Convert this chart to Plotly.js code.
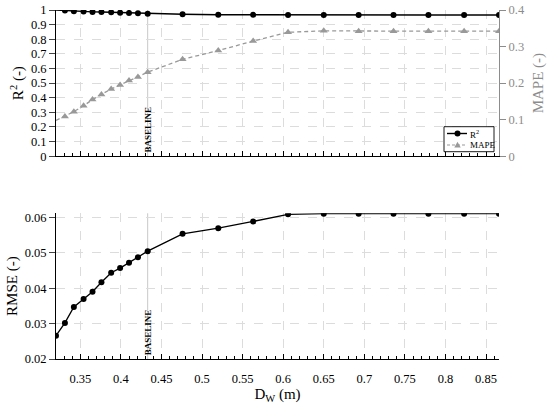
<!DOCTYPE html>
<html>
<head>
<meta charset="utf-8">
<script src="https://cdn.plot.ly/plotly-3.0.1.min.js"></script>
<style>html,body{margin:0;padding:0;background:#fff}#chart{width:550px;height:412px}</style>
</head>
<body>
<div id="chart"></div>
<script>
// Data
const dw = [0.320,0.331,0.342,0.354,0.365,0.376,0.388,0.399,0.410,0.421,0.433,0.476,0.520,0.563,0.606,0.650,0.693,0.736,0.779,0.823,0.866];
const r2 = [1.000,0.996,0.991,0.989,0.987,0.986,0.984,0.982,0.980,0.978,0.975,0.971,0.968,0.967,0.966,0.966,0.966,0.966,0.966,0.966,0.966];
const mape = [0.098,0.109,0.122,0.138,0.155,0.169,0.184,0.195,0.207,0.217,0.230,0.265,0.289,0.315,0.339,0.343,0.342,0.342,0.342,0.342,0.342];
const rmse = [0.0266,0.0302,0.0347,0.0370,0.0390,0.0417,0.0444,0.0457,0.0472,0.0488,0.0505,0.0554,0.0570,0.0589,0.0609,0.0611,0.0611,0.0611,0.0611,0.0611,0.0611];
const seriesNames = ['R<sup>2</sup>', 'MAPE', 'RMSE'];
const baselineX = dw[10];
const baselineLabel = 'BASELINE';

const FONT = "'Liberation Serif', 'Times New Roman', Times, serif";
const GRAY = '#8c8c8c';
const MAPE_COLOR = '#999999';
const TICK_SIZE = 12.5;
// first marker of the upper panel sits on the axis and is not drawn
const topOpacity = dw.map((v, i) => i === 0 ? 0 : 1);

const traces = [
  {x: dw, y: r2, type: 'scatter', mode: 'lines+markers', name: seriesNames[0],
   xaxis: 'x', yaxis: 'y', line: {color: '#000', width: 1.4},
   marker: {symbol: 'circle', size: 6, color: '#000', opacity: topOpacity}},
  {x: dw, y: mape, type: 'scatter', mode: 'lines+markers', name: seriesNames[1],
   xaxis: 'x', yaxis: 'y2', line: {color: MAPE_COLOR, width: 1.3, dash: '4px,3px'},
   marker: {symbol: 'triangle-up', size: 7, color: MAPE_COLOR, opacity: topOpacity}},
  {x: dw, y: rmse, type: 'scatter', mode: 'lines+markers', name: seriesNames[2],
   xaxis: 'x2', yaxis: 'y3', line: {color: '#000', width: 1.3},
   marker: {symbol: 'circle', size: 6, color: '#000'}}
];

const xCommon = {
  range: [0.32, 0.866], dtick: 0.05, tick0: 0.3, ticks: 'inside', ticklen: 5, tickcolor: '#000',
  showline: true, linecolor: '#000', linewidth: 1, zeroline: false,
  showgrid: true, gridcolor: '#dcdcdc', griddash: 'dash', gridwidth: 1,
  minor: {dtick: 0.01, tick0: 0.3, ticks: 'inside', ticklen: 3, tickcolor: '#000', showgrid: false},
  tickfont: {family: FONT, size: TICK_SIZE, color: '#000'}
};

// custom compact legend, positioned in paper coordinates (plot area: 56..499 px, 10..359 px)
const PX = p => (p - 56) / 443;
const PY = p => (359 - p) / 349;
const legX0 = 444, legX1 = 494, legY0 = 126.7, legY1 = 151.7;
const row1 = 133.5, row2 = 145;
const symX = 457.5, lineA = 447, lineB = 467, textX = 468;
const triPath = 'M ' + PX(symX - 3.2) + ' ' + PY(row2 + 2.4) + ' L ' + PX(symX + 3.2) + ' ' + PY(row2 + 2.4) +
                ' L ' + PX(symX) + ' ' + PY(row2 - 3.2) + ' Z';

const layout = {
  width: 550, height: 412,
  margin: {l: 56, r: 51, t: 10, b: 53},
  paper_bgcolor: '#fff', plot_bgcolor: '#fff',
  font: {family: FONT, color: '#000'},
  showlegend: false,
  xaxis: Object.assign({}, xCommon, {domain: [0, 1], anchor: 'y', showticklabels: false}),
  yaxis: {domain: [0.581, 1], range: [0, 1], dtick: 0.1, ticks: 'outside', ticklen: 6,
          showline: true, linecolor: '#000', zeroline: false,
          showgrid: true, gridcolor: '#dcdcdc', griddash: 'dash',
          tickfont: {family: FONT, size: TICK_SIZE},
          title: {text: 'R<sup>2</sup> (-)', font: {family: FONT, size: 15}, standoff: 3}},
  yaxis2: {overlaying: 'y', side: 'right', anchor: 'x', range: [0, 0.4], dtick: 0.1,
           ticks: 'outside', ticklen: 6, tickcolor: GRAY,
           showline: true, linecolor: GRAY, zeroline: false, showgrid: false,
           tickfont: {family: FONT, size: TICK_SIZE, color: GRAY},
           title: {text: 'MAPE (-)', font: {family: FONT, size: 15, color: GRAY}, standoff: 8}},
  xaxis2: Object.assign({}, xCommon, {domain: [0, 1], anchor: 'y3', ticklabelstandoff: 8,
          title: {text: 'D<sub>W</sub> (m)', font: {family: FONT, size: 15}, standoff: 2}}),
  yaxis3: {domain: [0, 0.4175], range: [0.02, 0.0612], dtick: 0.01, tick0: 0, ticks: 'outside', ticklen: 6,
           showline: true, linecolor: '#000', zeroline: false,
           showgrid: true, gridcolor: '#dcdcdc', griddash: 'dash',
           tickfont: {family: FONT, size: TICK_SIZE}, anchor: 'x2',
           title: {text: 'RMSE (-)', font: {family: FONT, size: 15}, standoff: 3}},
  shapes: [
    {type: 'line', xref: 'x', yref: 'y domain', x0: baselineX, x1: baselineX, y0: 0, y1: 1,
     line: {color: '#c8c8c8', width: 1}, layer: 'below'},
    {type: 'line', xref: 'x2', yref: 'y3 domain', x0: baselineX, x1: baselineX, y0: 0, y1: 1,
     line: {color: '#c8c8c8', width: 1}, layer: 'below'},
    // legend
    {type: 'rect', xref: 'paper', yref: 'paper', x0: PX(legX0), x1: PX(legX1), y0: PY(legY1), y1: PY(legY0),
     line: {color: '#000', width: 0.9}, fillcolor: '#fff', layer: 'above'},
    {type: 'line', xref: 'paper', yref: 'paper', x0: PX(lineA), x1: PX(lineB), y0: PY(row1), y1: PY(row1),
     line: {color: '#000', width: 1.4}, layer: 'above'},
    {type: 'circle', xref: 'paper', yref: 'paper', x0: PX(symX - 3), x1: PX(symX + 3), y0: PY(row1 + 3), y1: PY(row1 - 3),
     line: {color: '#000', width: 0}, fillcolor: '#000', layer: 'above'},
    {type: 'line', xref: 'paper', yref: 'paper', x0: PX(lineA), x1: PX(lineB), y0: PY(row2), y1: PY(row2),
     line: {color: MAPE_COLOR, width: 1.2, dash: '3px,2px'}, layer: 'above'},
    {type: 'path', xref: 'paper', yref: 'paper', path: triPath,
     line: {color: MAPE_COLOR, width: 0}, fillcolor: MAPE_COLOR, layer: 'above'}
  ],
  annotations: [
    {xref: 'x', yref: 'y domain', x: baselineX, y: 0.01, xanchor: 'center', yanchor: 'bottom',
     text: '<b>' + baselineLabel + '</b>', textangle: -90, showarrow: false,
     font: {family: FONT, size: 9, color: '#000'}},
    {xref: 'x2', yref: 'y3 domain', x: baselineX, y: 0.01, xanchor: 'center', yanchor: 'bottom',
     text: '<b>' + baselineLabel + '</b>', textangle: -90, showarrow: false,
     font: {family: FONT, size: 9, color: '#000'}},
    {xref: 'paper', yref: 'paper', x: PX(textX), y: PY(row1), xanchor: 'left', yanchor: 'middle',
     text: seriesNames[0], showarrow: false, font: {family: FONT, size: 9, color: '#000'}},
    {xref: 'paper', yref: 'paper', x: PX(textX), y: PY(row2), xanchor: 'left', yanchor: 'middle',
     text: seriesNames[1], showarrow: false, font: {family: FONT, size: 9, color: '#000'}}
  ]
};

Plotly.newPlot('chart', traces, layout, {displayModeBar: false, staticPlot: true});
</script>
</body>
</html>
